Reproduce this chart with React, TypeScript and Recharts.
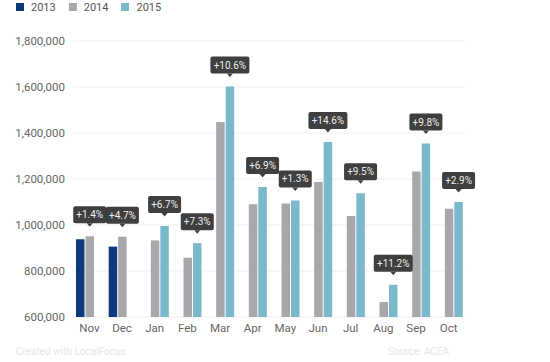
import React from "react";
import { BarChart, Bar, XAxis, YAxis, CartesianGrid, Legend, LabelList } from "recharts";

const months = ["Nov", "Dec", "Jan", "Feb", "Mar", "Apr", "May", "Jun", "Jul", "Aug", "Sep", "Oct"];
const sales2013 = [938000, 906000, null, null, null, null, null, null, null, null, null, null];
const sales2014 = [951000, 949000, 933000, 858000, 1448000, 1090000, 1093000, 1187000, 1039000, 665000, 1233000, 1071000];
const sales2015 = [null, null, 996000, 921000, 1602000, 1165000, 1107000, 1361000, 1138000, 740000, 1354000, 1100000];
const changes = ["+1.4%", "+4.7%", "+6.7%", "+7.3%", "+10.6%", "+6.9%", "+1.3%", "+14.6%", "+9.5%", "+11.2%", "+9.8%", "+2.9%"];
const yTicks = [600000, 800000, 1000000, 1200000, 1400000, 1600000, 1800000];

const series = [
  { key: "y2013", name: "2013", color: "#0d3a7f" },
  { key: "y2014", name: "2014", color: "#a8a8ac" },
  { key: "y2015", name: "2015", color: "#7ab8cc" },
];

const data = months.map((m, i) => ({
  month: m,
  y2013: sales2013[i],
  y2014: sales2014[i],
  y2015: sales2015[i],
  // the change badge sits on the most recent bar of the month
  label2014: sales2015[i] == null ? changes[i] : undefined,
  label2015: sales2015[i] != null ? changes[i] : undefined,
}));

const fmt = (v: number) => v.toLocaleString("en-US");

function Badge(props: any) {
  const { x, y, width, value } = props;
  if (!value) return null;
  const cx = x + width / 2;
  const w = value.length * 6 + 3;
  const boxBottom = y - 13;
  return (
    <g>
      <rect x={cx - w / 2} y={boxBottom - 17} width={w} height={17} rx={2} fill="#3f3f3f" />
      <path d={`M${cx - 3},${boxBottom} L${cx + 3},${boxBottom} L${cx},${boxBottom + 3.5} Z`} fill="#3f3f3f" />
      <text x={cx} y={boxBottom - 5} textAnchor="middle" fontSize={10} fill="#eeeeee" fontFamily="Roboto, sans-serif">
        {value}
      </text>
    </g>
  );
}

function LegendRow() {
  return (
    <div style={{ display: "flex", height: 14, alignItems: "center", fontSize: 11, color: "#555", paddingLeft: 16 }}>
      {series.map((s) => (
        <div key={s.key} style={{ display: "flex", alignItems: "center", marginRight: 13 }}>
          <span style={{ width: 8, height: 8, background: s.color, marginRight: 7, display: "inline-block" }} />
          <span>{s.name}</span>
        </div>
      ))}
    </div>
  );
}

export default function App() {
  return (
    <div style={{ position: "absolute", left: 0, top: 0, width: 550, height: 362, background: "#fff", fontFamily: "Roboto, sans-serif" }}>
      <BarChart width={550} height={362} data={data} margin={{ top: 27, right: 85, bottom: 25, left: 0 }} barSize={8.5} barGap={1}>
        <Legend verticalAlign="top" align="left" wrapperStyle={{ top: 0, left: 0 }} content={() => <LegendRow />} />
        <CartesianGrid vertical={false} stroke="#efefef" />
        <XAxis
          dataKey="month"
          axisLine={false}
          tickLine={false}
          tickSize={0}
          tickMargin={7}
          height={20}
          tick={{ fontSize: 11.5, fill: "#666" }}
        />
        <YAxis
          domain={[600000, 1800000]}
          ticks={yTicks}
          allowDataOverflow
          axisLine={false}
          tickLine={false}
          tickSize={0}
          tickMargin={8}
          width={73}
          tickFormatter={fmt}
          tick={{ fontSize: 11.5, fill: "#666" }}
        />
        {series.map((s) => (
          <Bar key={s.key} dataKey={s.key} name={s.name} fill={s.color} isAnimationActive={false}>
            {s.key === "y2014" && <LabelList dataKey="label2014" content={Badge} />}
            {s.key === "y2015" && <LabelList dataKey="label2015" content={Badge} />}
          </Bar>
        ))}
      </BarChart>
      <div style={{ position: "absolute", left: 16, top: 346, fontSize: 10, color: "#e6e6e6" }}>Created with LocalFocus</div>
      <div style={{ position: "absolute", left: 388, top: 346, fontSize: 10, color: "#e6e6e6" }}>Source: ACEA</div>
    </div>
  );
}
